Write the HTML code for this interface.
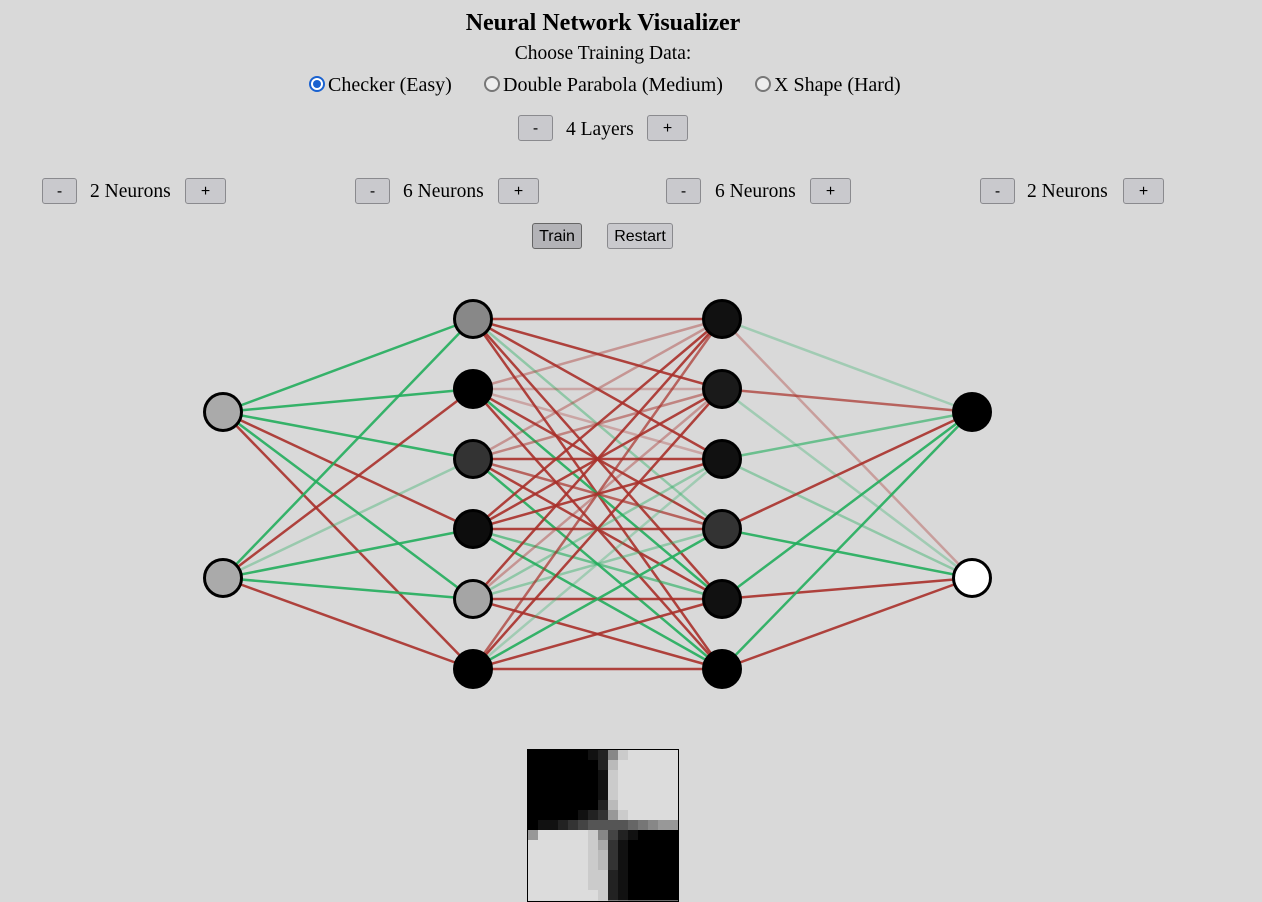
<!DOCTYPE html>
<html><head><meta charset="utf-8"><style>
body{margin:0;background:#d9d9d9;width:1262px;height:902px;overflow:hidden;position:relative;font-family:"Liberation Serif",serif;color:#000}
.a{position:absolute;white-space:nowrap}
.btn{position:absolute;background:#c9c9cd;border:1px solid #8a8a8e;border-radius:3px;font-family:"Liberation Sans",sans-serif;font-size:16px;text-align:center;line-height:26px;height:24px;box-sizing:content-box}
.lbl{position:absolute;font-size:19.5px;line-height:28px}
.radio{display:inline-block;width:12px;height:12px;border:2px solid #777;border-radius:50%;vertical-align:-1px;margin-right:3px;background:#eee;position:relative}
.radio.on{border-color:#1a62d0;background:#fff}
.radio.on::after{content:"";position:absolute;left:2px;top:2px;width:8px;height:8px;border-radius:50%;background:#1a62d0}
</style></head><body>
<div class="a" style="left:0;width:1206px;text-align:center;top:10px;font-size:24px;font-weight:bold">Neural Network Visualizer</div>
<div class="a" style="left:0;width:1206px;text-align:center;top:43px;font-size:19.5px">Choose Training Data:</div>
<div class="a" style="left:309px;top:74px;font-size:20px"><span class="radio on"></span>Checker (Easy)</div>
<div class="a" style="left:484px;top:74px;font-size:20px"><span class="radio"></span>Double Parabola (Medium)</div>
<div class="a" style="left:755px;top:74px;font-size:20px"><span class="radio"></span>X Shape (Hard)</div>

<div class="btn" style="left:518px;top:115px;width:33px">-</div>
<div class="lbl" style="left:566px;top:116px">4 Layers</div>
<div class="btn" style="left:647px;top:115px;width:39px">+</div>

<div class="btn" style="left:42px;top:178px;width:33px">-</div>
<div class="lbl" style="left:90px;top:178px">2 Neurons</div>
<div class="btn" style="left:185px;top:178px;width:39px">+</div>
<div class="btn" style="left:355px;top:178px;width:33px">-</div>
<div class="lbl" style="left:403px;top:178px">6 Neurons</div>
<div class="btn" style="left:498px;top:178px;width:39px">+</div>
<div class="btn" style="left:666px;top:178px;width:33px">-</div>
<div class="lbl" style="left:715px;top:178px">6 Neurons</div>
<div class="btn" style="left:810px;top:178px;width:39px">+</div>
<div class="btn" style="left:980px;top:178px;width:33px">-</div>
<div class="lbl" style="left:1027px;top:178px">2 Neurons</div>
<div class="btn" style="left:1123px;top:178px;width:39px">+</div>

<div class="btn" style="left:532px;top:223px;width:48px;background:#b3b3b7;border-color:#666">Train</div>
<div class="btn" style="left:607px;top:223px;width:64px">Restart</div>

<svg id="net" width="1262" height="902" style="position:absolute;left:0;top:0"></svg>
<svg id="hm" width="152" height="153" style="position:absolute;left:527px;top:749px"></svg>
<script>
const layerX=[223,473,722,972];
const layerY=[[412,578],[319,389,459,529,599,669],[319,389,459,529,599,669],[412,578]];
const fills=[["#aaa","#aaa"],["#888","#000","#333","#0d0d0d","#a5a5a5","#000"],["#111","#1a1a1a","#111","#333","#111","#000"],["#000","#fff"]];
// weights[l][i][j]: from neuron i in layer l to neuron j in layer l+1 (sign: + green, - red; magnitude = opacity)
const w0=[[0.9,0.9,0.9,-0.9,0.9,-0.9],[0.9,-0.9,0.35,0.9,0.9,-0.9]];
const w1=[[-0.9,-0.9,-0.9,0.4,-0.9,-0.9],[-0.4,-0.3,-0.3,-0.9,0.9,-0.9],[-0.4,-0.5,-0.9,-0.7,-0.9,0.9],[-0.9,-0.9,-0.9,-0.9,0.6,0.9],[-0.9,-0.4,0.4,0.4,-0.9,-0.9],[-0.7,-0.9,0.3,0.9,-0.9,-0.9]];
const w2=[[0.3,-0.35],[-0.7,0.3],[0.6,0.4],[-0.9,0.9],[0.9,-0.9],[0.9,-0.9]];
const weights=[w0,w1,w2];
const NS="http://www.w3.org/2000/svg";
const net=document.getElementById('net');
weights.forEach((W,l)=>{W.forEach((row,i)=>{row.forEach((v,j)=>{
 const ln=document.createElementNS(NS,'line');
 ln.setAttribute('x1',layerX[l]);ln.setAttribute('y1',layerY[l][i]);
 ln.setAttribute('x2',layerX[l+1]);ln.setAttribute('y2',layerY[l+1][j]);
 ln.setAttribute('stroke',v>0?'#22ad5c':'#a8302a');
 ln.setAttribute('stroke-opacity',Math.min(1,Math.abs(v)));
 ln.setAttribute('stroke-width','2.5');
 
 
 net.appendChild(ln);});});});
layerY.forEach((ys,l)=>ys.forEach((y,i)=>{
 const c=document.createElementNS(NS,'circle');
 c.setAttribute('cx',layerX[l]);c.setAttribute('cy',y);c.setAttribute('r',18.5);
 c.setAttribute('fill',fills[l][i]);c.setAttribute('stroke','#000');c.setAttribute('stroke-width','3');
 
 
 net.appendChild(c);}));
// heatmap rows, hex digit 0 (black) .. d (light)
const hmRows=["000000128cddddd","00000002bdddddd","00000001cdddddd","00000001cdddddd","00000001cdddddd","00000002bdddddd","000001239cddddd","011234555567899","9dddddc84210000","ddddddca3100000","ddddddcb3100000","ddddddcb3100000","ddddddcc2100000","ddddddcc2100000","dddddddc2100000"];
const hm=document.getElementById('hm');
const cs=10;
hmRows.forEach((r,ri)=>{[...r].forEach((ch,ci)=>{
 const g=Math.round(parseInt(ch,16)/13*220);
 const rc=document.createElementNS(NS,'rect');
 rc.setAttribute('x',1+ci*cs);rc.setAttribute('y',1+ri*cs);rc.setAttribute('width',cs+0.5);rc.setAttribute('height',cs+0.5);
 rc.setAttribute('fill',`rgb(${g},${g},${g})`);
 
 
 hm.appendChild(rc);});});
const b=document.createElementNS(NS,'rect');
b.setAttribute('x',0.5);b.setAttribute('y',0.5);b.setAttribute('width',151);b.setAttribute('height',152);
b.setAttribute('fill','none');b.setAttribute('stroke','#000');


hm.appendChild(b);
</script>
</body></html>
